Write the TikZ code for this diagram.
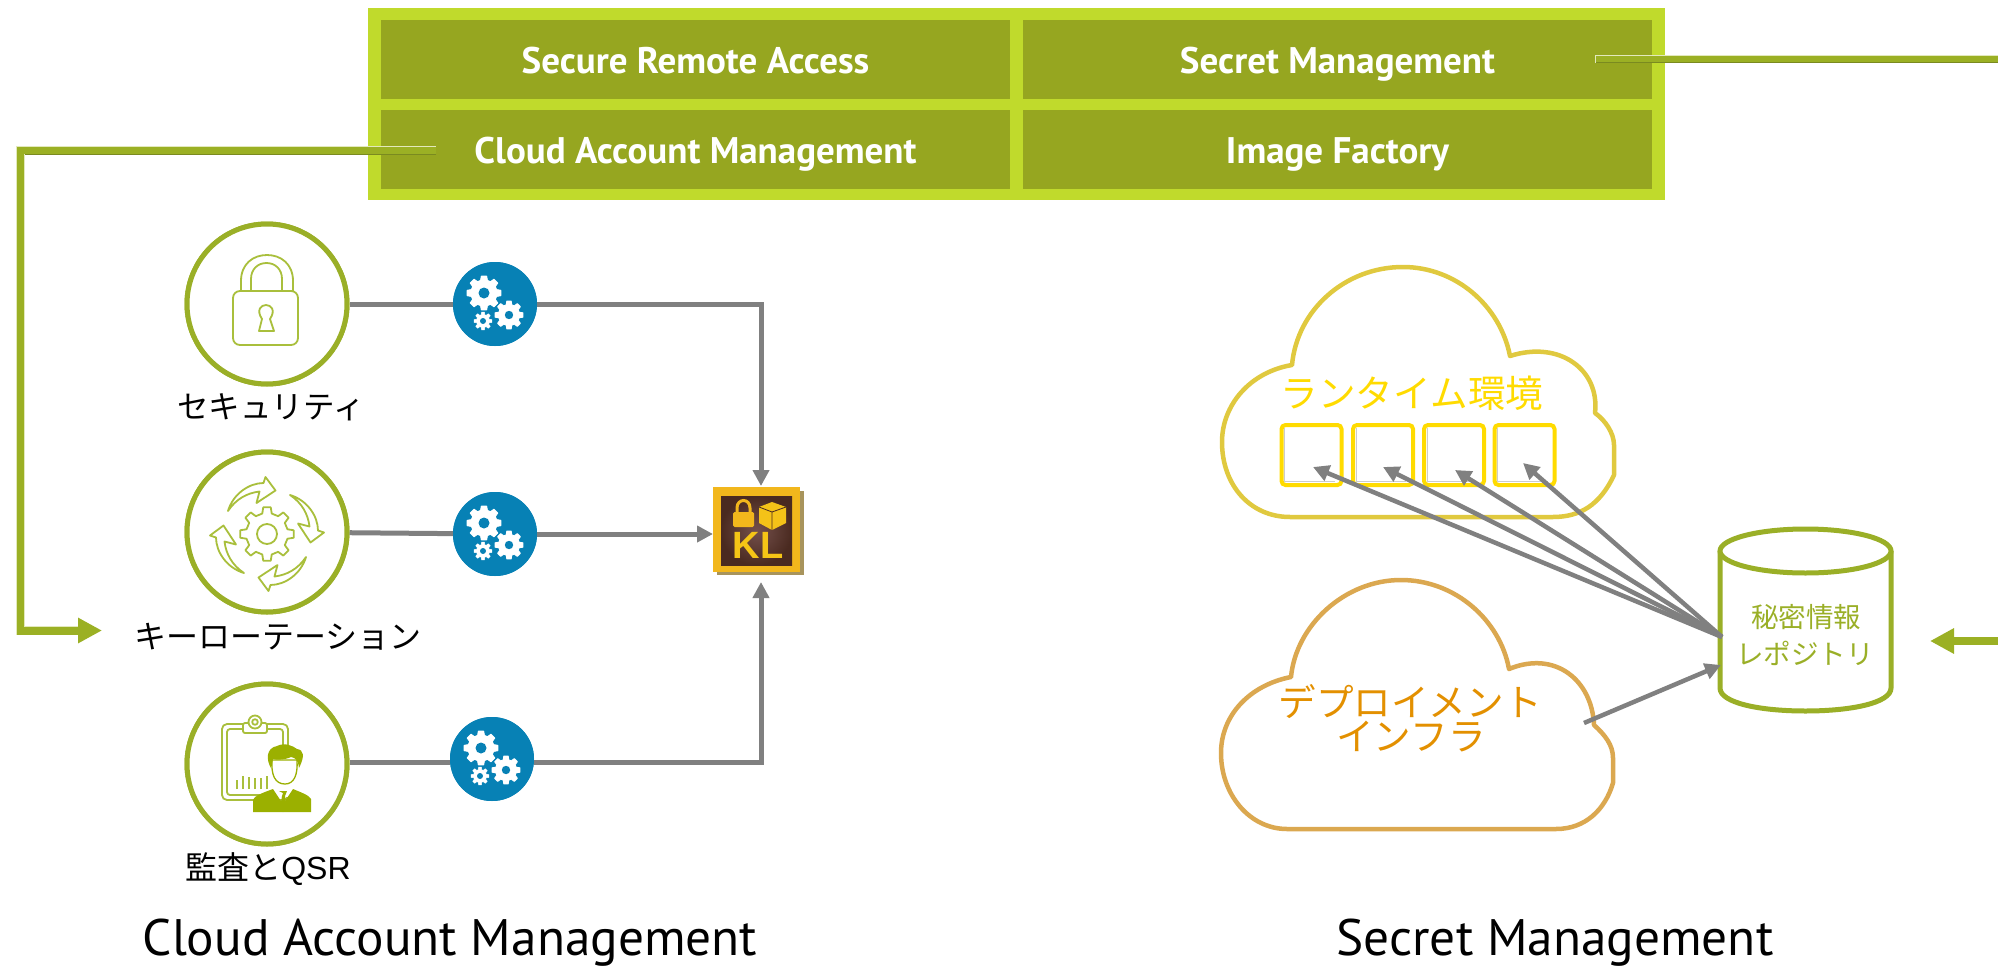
\documentclass[tikz,border=0pt]{standalone}
\usepackage{fontspec}
\setmainfont{PT Sans}
\newfontfamily\jp{Noto Sans CJK JP}
\newfontfamily\ars{Liberation Sans}
\usetikzlibrary{arrows.meta,shadings}
\definecolor{framegreen}{HTML}{C0DA2C}
\definecolor{cellgreen}{HTML}{96A620}
\definecolor{linkgreen}{HTML}{9BB024}
\definecolor{linkdark}{HTML}{7A8A20}
\definecolor{linklight}{HTML}{E3E9BC}
\definecolor{ringgreen}{HTML}{9AAF27}
\definecolor{icongreen}{HTML}{A9BF3C}
\definecolor{manblue}{HTML}{0781B5}
\definecolor{connGray}{HTML}{808080}
\definecolor{cloudY}{HTML}{E0C93F}
\definecolor{cloudO}{HTML}{DBA850}
\definecolor{textY}{HTML}{FFDB00}
\definecolor{textO}{HTML}{E39000}
\definecolor{klgold}{HTML}{F2B71C}
\definecolor{klbrown}{HTML}{4A2A20}
\definecolor{klmid}{HTML}{74504C}
\definecolor{klshadow}{HTML}{A8945C}
\definecolor{manolive}{HTML}{9BB000}
\newcommand{\fs}[1]{\fontsize{#1}{#1}\selectfont}
% \cogwheel{teeth}{tip}{root}{half tip angle}{half root angle}
\newcommand{\cogwheel}[5]{%
  (90-#5:#3)
  \foreach \ci in {1,...,#1}{
    -- ({90+(\ci-1)*360/#1-#4}:#2) -- ({90+(\ci-1)*360/#1+#4}:#2)
    -- ({90+(\ci-1)*360/#1+#5}:#3) -- ({90+\ci*360/#1-#5}:#3)
  } -- cycle}
\tikzset{
  cell/.style={fill=cellgreen,text=white,minimum width=629pt,minimum height=79pt,inner sep=0pt,outer sep=0pt,font=\fs{37}\bfseries,text height=35pt,text depth=8pt},
  ring/.style={circle,draw=ringgreen,fill=white,line width=5pt,minimum size=160pt,inner sep=0pt},
  cogdisc/.style={circle,fill=manblue,minimum size=84pt,inner sep=0pt},
  label/.style={font=\jp\fs{31.5},text=black,inner sep=0pt},
  titletxt/.style={font=\fs{51.3},text=black,inner sep=0pt,anchor=base},
  conn/.style={draw=connGray,line width=5pt},
  connarrow/.style={conn,-{Triangle[length=16pt,width=16pt]}},
  link/.style={draw=linkgreen,line width=8pt},
  linkarrow/.style={link,-{Triangle[length=24pt,width=24pt]}},
  edgehi/.style={draw=linklight,line width=1pt},
  edgelo/.style={draw=linkdark,line width=1.4pt},
  slot/.style={draw=textY,fill=white,line width=4pt,rounded corners=4pt,minimum width=60pt,minimum height=60pt,inner sep=0pt},
  cloudline/.style={line width=4.5pt,fill=white,line join=round},
  iconline/.style={draw=icongreen,line width=1.8pt,line join=round},
  cloudtxt/.style={font=\jp\fs{37.6},inner sep=0pt},
}
\begin{document}
\begin{tikzpicture}[x=1pt,y=-1pt]
\useasboundingbox (0,0) rectangle (1998,969);
\fill[white] (0,0) rectangle (1998,969);

% --- top frame ---
\node[fill=framegreen,minimum width=1297pt,minimum height=192pt,inner sep=0pt] (frame) at (1016.5,104) {};
\node[cell] (cRemote) at (695.5,59.5) {Secure Remote Access};
\node[cell] (cSecret) at (1337.5,59.5) {Secret Management};
\node[cell] (cCloud) at (695.5,149.5) {Cloud Account Management};
\node[cell] (cImage) at (1337.5,149.5) {Image Factory};

% --- rings, discs ---
\node[ring] (r1) at (267,304) {};
\node[ring] (r2) at (267,532) {};
\node[ring] (r3) at (267,764) {};
\node[cogdisc] (g1) at (495,304) {};
\node[cogdisc] (g2) at (495,534) {};
\node[cogdisc] (g3) at (492,759) {};

% --- KL icon ---
\fill[klshadow] (717,491) rectangle (803.5,575);
\node[fill=klgold,minimum width=87pt,minimum height=85pt,inner sep=0pt,outer sep=0pt] (kl) at (756.5,529.5) {};
\shade[inner color=klmid,outer color=klbrown] (721,496) rectangle (792,565);
\begin{scope}
  \fill[klgold,rounded corners=1.5pt] (733,512) rectangle (754,527);
  \draw[klgold,line width=3pt] (737,512) -- (737,508) .. controls (737,498) and (750,498) .. (750,508) -- (750,512);
  \fill[klgold!85!yellow] (759,507) -- (772,502) -- (786,507) -- (786,523) -- (772,530) -- (759,523) -- cycle;
  \draw[klbrown,line width=.8pt] (759,507) -- (772,512) -- (786,507) (772,512) -- (772,530);
\end{scope}
\node[text=klgold!80!yellow,font=\ars\bfseries\fs{38},inner sep=0pt] (kltext) at (758,545) {KL};

% --- connectors left ---
\coordinate (klTop) at (761,486);
\coordinate (klLeft) at (713,534);
\coordinate (klBottom) at (761,582);
\coordinate (turnT) at (761,304);
\coordinate (turnB) at (761,762);
\draw[conn] (r1) -- (g1);
\draw[conn] (r2) -- (g2);
\draw[conn] (r3.east |- 0,762) -- (g3.west |- 0,762);
\draw[connarrow] (g1) -- (turnT) -- (klTop);
\draw[connarrow] (g2) -- (klLeft);
\draw[connarrow] (g3.east |- 0,762) -- (turnB) -- (klBottom);
\node[ring] at (r1) {};\node[ring] at (r2) {};\node[ring] at (r3) {};
\node[cogdisc] at (g1) {};\node[cogdisc] at (g2) {};\node[cogdisc] at (g3) {};

% --- cogs ---
\foreach \cx/\cy in {495/304,495/534,492/759}{
\begin{scope}[shift={(\cx,\cy)}]
  \begin{scope}[shift={(-11,-11)}]
    \fill[white,line join=round,draw=white,line width=1pt] \cogwheel{8}{17}{13}{9}{15};
    \fill[manblue] (0,0) circle (5.5);
  \end{scope}
  \begin{scope}[shift={(14,11)}]
    \fill[white,line join=round,draw=white,line width=1pt] \cogwheel{8}{14}{10.5}{9}{15};
    \fill[manblue] (0,0) circle (4.2);
  \end{scope}
  \begin{scope}[shift={(-12,17)}]
    \fill[white,line join=round,draw=white,line width=.5pt] \cogwheel{8}{9}{6.5}{9}{15};
    \fill[manblue] (0,0) circle (3);
  \end{scope}
\end{scope}}

% --- lock icon ---
\draw[iconline,rounded corners=7pt] (233,291) rectangle (298,345);
\draw[iconline] (241,291) -- (241,281) .. controls (241,264) and (253,255) .. (267,255) .. controls (281,255) and (293,264) .. (293,281) -- (293,291);
\draw[iconline] (251,291) -- (251,279) .. controls (251,269) and (258,263) .. (266.5,263) .. controls (275,263) and (282,269) .. (282,279) -- (282,291);
\draw[iconline] (262,319) .. controls (256,310) and (261,305) .. (266,305) .. controls (271,305) and (276,310) .. (270,319) -- (274,331) -- (259,331) -- cycle;

% --- rotation icon ---
\begin{scope}[shift={(267,534)}]
  \draw[iconline] \cogwheel{8}{27}{21}{8}{13};
  \draw[iconline] (0,0) circle (10);
  \foreach \ra in {0,-90,-180,-270}{
  \begin{scope}[rotate=\ra]
    \draw[iconline] (-39,-23) .. controls (-34,-40) and (-18,-51) .. (-3.5,-51) -- (-1.5,-57) -- (8.5,-43.5) -- (-10.5,-31) -- (-7.5,-42.5) .. controls (-20,-41) and (-31,-35) .. cycle;
  \end{scope}}
\end{scope}

% --- audit icon ---
\draw[iconline,rounded corners=5pt] (222,724) rectangle (288,800);
\draw[iconline,rounded corners=3pt] (227,729) rectangle (283,795);
\draw[iconline,fill=white,rounded corners=2pt] (243,723) rectangle (267,733);
\draw[iconline,fill=white] (255,722) circle (6.5);
\draw[iconline] (255,722) circle (2.8);
\foreach \bx/\bt in {237/780,243/776,249/777,255/778,261/778,267/776}{
  \draw[draw=icongreen,line width=1.5pt] (\bx,789) -- (\bx,\bt);}
\fill[white] (270,745) rectangle (300,797);
\fill[manolive] (253,812) -- (253,800) .. controls (254,796) and (262,793) .. (273,789) -- (283,804) -- (293,789) .. controls (300,792) and (309,795) .. (311,799) -- (311,812) -- cycle;
\fill[manolive] (283,793) -- (279,791) -- (287,791) -- (285,796) -- (287,809) -- (283,812) -- (280,809) -- (282,796) -- cycle;
\draw[draw=manolive,line width=1.3pt,fill=white] (272,760) .. controls (271,775) and (275,784) .. (285,784) .. controls (294,784) and (298,775) .. (297,760) -- cycle;
\fill[manolive] (271,768) .. controls (266,760) and (266,748) .. (277,746) .. controls (285,742) and (293,746) .. (297,749) .. controls (304,750) and (305,756) .. (299,768) .. controls (298,760) and (296,758) .. (291,757) .. controls (285,760) and (275,760) .. (273,759) -- cycle;

% --- left labels ---
\node[label] (lSec) at (271,407) {セキュリティ};
\node[label,font=\jp\fs{32}] (lKey) at (278,637) {キーローテーション};
\node[label,font=\jp\fs{32}] (lAud) at (268,869) {監査と{\ars QSR}};

% --- green links ---
\coordinate (srcCloud) at (436,150);
\coordinate (bendTop) at (20.5,150);
\coordinate (bendBot) at (20.5,630.5);
\coordinate (dstKey) at (102,630.5);
\draw[edgelo,line width=9pt,draw=linkdark] (srcCloud) -- (bendTop);
\draw[linkarrow,line join=miter] (srcCloud) -- (bendTop) -- (bendBot) -- (dstKey);
\draw[edgehi] (436,146) -- (16.5,146) -- (16.5,634.5) (24.5,154) -- (24.5,626.5) -- (78,626.5);

\coordinate (srcSecret) at (1595,59);
\coordinate (rightEdge) at (1998,59);
\draw[link] (srcSecret) -- (rightEdge);
\draw[edgehi] (1595,63) -- (1595,55) -- (rightEdge |- 0,55);
\draw[edgelo] (1596,62.5) -- (rightEdge |- 0,62.5);

% --- clouds ---
\path[cloudline,draw=cloudY] (1292,365) .. controls (1297,310) and (1345,267) .. (1403,267) .. controls (1455,267) and (1500,305) .. (1510,356) .. controls (1560,340) and (1600,370) .. (1595,413) .. controls (1605,420) and (1614,433) .. (1614,445) -- (1614,475) .. controls (1600,505) and (1580,517) .. (1553,517) -- (1290,517) .. controls (1250,517) and (1222,485) .. (1222,442) .. controls (1222,405) and (1250,372) .. (1292,365) -- cycle;
\path[cloudline,draw=cloudO] (1291,677) .. controls (1296,625) and (1345,580) .. (1401,580) .. controls (1455,580) and (1500,620) .. (1509,669) .. controls (1555,650) and (1592,680) .. (1594,725) .. controls (1605,735) and (1613,745) .. (1613,758) -- (1613,783) .. controls (1605,810) and (1585,829) .. (1556,829) -- (1287,829) .. controls (1250,829) and (1221,795) .. (1221,753) .. controls (1221,715) and (1250,685) .. (1291,677) -- cycle;

\node[cloudtxt,text=textY] (tRun) at (1412,393) {ランタイム環境};
\node[slot] (s1) at (1311.5,455) {};
\node[slot] (s2) at (1383,455) {};
\node[slot] (s3) at (1454,455) {};
\node[slot] (s4) at (1524.5,455) {};
\foreach \sx in {1284.5,1356,1427,1497.5}{
  \draw[black!20,line width=1pt] (\sx,428) -- (\sx,481) -- (\sx+50,481);}
\node[cloudtxt,text=textO] (tDep) at (1410,702) {デプロイメント};
\node[cloudtxt,text=textO] (tInf) at (1411,737) {インフラ};

% --- repository ---
\draw[draw=ringgreen,line width=5pt,fill=white] (1720,551) -- (1720,688) .. controls (1720,703) and (1760,711) .. (1805.5,711) .. controls (1851,711) and (1891,703) .. (1891,688) -- (1891,551);
\draw[draw=ringgreen,line width=5pt,fill=white] (1805.5,551) ellipse[x radius=85.5,y radius=22];
\node[font=\jp\fs{27.5},text=ringgreen,inner sep=0pt] (tRepoA) at (1806,617) {秘密情報};
\node[font=\jp\fs{27.5},text=ringgreen,inner sep=0pt] (tRepoB) at (1805,653) {レポジトリ};

\coordinate (repoTap) at (1722,637);
\coordinate (t1) at (1313,467);
\coordinate (t2) at (1383,467);
\coordinate (t3) at (1455,470);
\coordinate (t4) at (1523,463);
\foreach \tp in {t1,t2,t3,t4}{\draw[connarrow,line width=4.5pt] (repoTap) -- (\tp);}
\coordinate (infraOut) at (1584,723);
\coordinate (repoIn) at (1721,665);
\draw[connarrow,line width=4.5pt] (infraOut) -- (repoIn);

\coordinate (rightIn) at (1998,641);
\coordinate (repoArrow) at (1930,641);
\draw[linkarrow] (rightIn) -- (repoArrow);

% --- titles ---
\node[titletxt] (tCloud) at (450,955) {Cloud Account Management};
\node[titletxt] (tSecret) at (1555,955) {Secret Management};
\end{tikzpicture}
\end{document}
